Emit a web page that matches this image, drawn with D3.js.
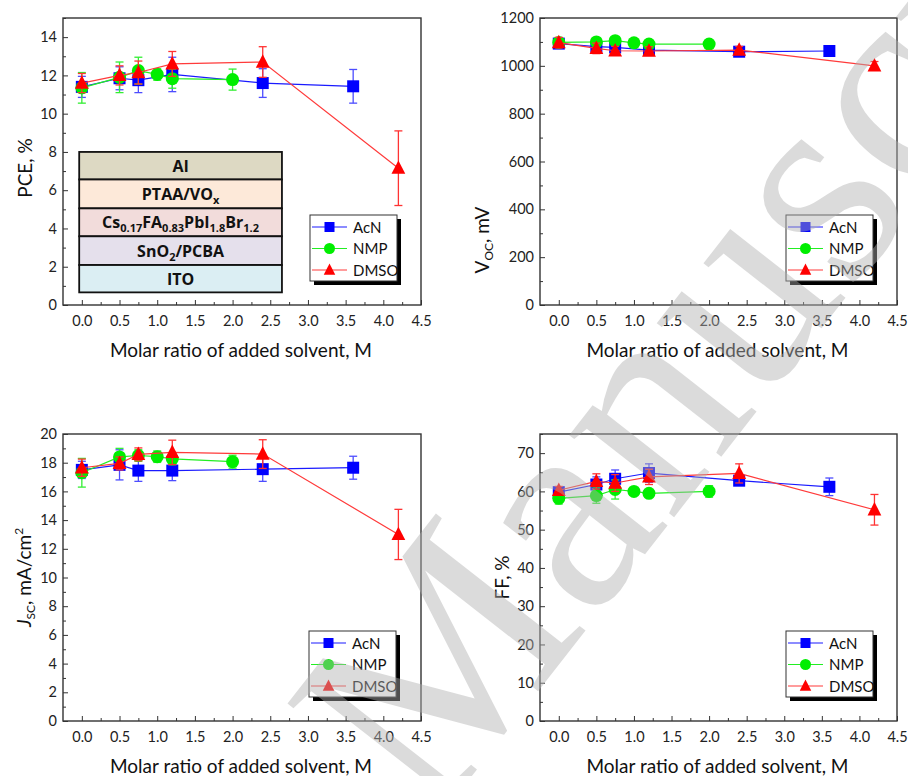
<!DOCTYPE html>
<html><head><meta charset="utf-8">
<script src="https://cdn.jsdelivr.net/npm/d3@7"></script>
<style>
html,body{margin:0;padding:0;background:#fff;}
svg{display:block;font-family:Lato,"Open Sans",sans-serif;}
</style></head>
<body>
<svg id="c" width="908" height="776"></svg>
<script>
// ---------- data ----------
const seriesNames = ["AcN", "NMP", "DMSO"];
const xAcN  = [0, 0.5, 0.75, 1.2, 2.4, 3.6];
const xNMP  = [0, 0.5, 0.75, 1.0, 1.2, 2.0];
const xDMSO = [0, 0.5, 0.75, 1.2, 2.4, 4.2];
const xTickLabels = ["0.0","0.5","1.0","1.5","2.0","2.5","3.0","3.5","4.0","4.5"];

const pceAcN  = [11.4, 11.85, 11.75, 12.05, 11.6, 11.43];
const pceAcNErr = [0.55, 0.6, 0.65, 0.9, 0.75, 0.88];
const pceNMP  = [11.35, 11.9, 12.25, 12.05, 11.83, 11.78];
const pceNMPErr = [0.8, 0.8, 0.7, 0.3, 0.5, 0.55];
const pceDMSO = [11.6, 12.0, 12.15, 12.6, 12.7, 7.15];
const pceDMSOErr = [0.5, 0.5, 0.6, 0.65, 0.8, 1.95];

const vocAcN  = [1093, 1080, 1077, 1066, 1059, 1062];
const vocAcNErr = [15, 15, 15, 15, 15, 10];
const vocNMP  = [1098, 1100, 1105, 1096, 1091, 1091];
const vocNMPErr = [10, 10, 10, 8, 8, 8];
const vocDMSO = [1097, 1073, 1063, 1062, 1066, 1000];
const vocDMSOErr = [22, 22, 18, 18, 15, 18];

const jscAcN  = [17.5, 17.85, 17.45, 17.45, 17.55, 17.65];
const jscAcNErr = [0.6, 1.05, 0.75, 0.7, 0.85, 0.8];
const jscNMP  = [17.3, 18.4, 18.5, 18.42, 18.26, 18.07];
const jscNMPErr = [1.0, 0.6, 0.4, 0.4, 0.4, 0.45];
const jscDMSO = [17.65, 17.95, 18.58, 18.72, 18.6, 13.0];
const jscDMSOErr = [0.6, 0.45, 0.45, 0.85, 1.0, 1.75];

const ffAcN  = [59.8, 61.8, 63.3, 64.8, 62.8, 61.2];
const ffAcNErr = [1.0, 2.0, 2.3, 2.4, 1.2, 2.3];
const ffNMP  = [58.2, 58.9, 60.5, 60.0, 59.5, 60.0];
const ffNMPErr = [1.5, 2.0, 2.5, 0.8, 0.8, 1.5];
const ffDMSO = [60.3, 62.6, 62.2, 63.8, 64.7, 55.2];
const ffDMSOErr = [1.0, 2.0, 2.2, 2.0, 2.5, 4.0];

const stackLayers = ["Al", "PTAA/VOx", "Cs0.17FA0.83PbI1.8Br1.2", "SnO2/PCBA", "ITO"];

// ---------- style ----------
const colors = {AcN: "#0000ff", NMP: "#00ee00", DMSO: "#ff0000"};
const errColors = {AcN: "#4d4dff", NMP: "#33ee33", DMSO: "#ff3333"};
const lineColors = {AcN: "#1a1aff", NMP: "#22ee22", DMSO: "#ff3a3a"};
const xs = {AcN: xAcN, NMP: xNMP, DMSO: xDMSO};

const svg = d3.select("#c");

const panels = [
  {l:63, t:18, r:421, b:305, dom:[0,15], major:2, minor:1, fmt:d3.format("d"),
   data:{AcN:[pceAcN,pceAcNErr], NMP:[pceNMP,pceNMPErr], DMSO:[pceDMSO,pceDMSOErr]},
   label:"pce", lx:32, legend:[310,215]},
  {l:540, t:18, r:897, b:305, dom:[0,1200], major:200, minor:100, fmt:d3.format("d"),
   data:{AcN:[vocAcN,vocAcNErr], NMP:[vocNMP,vocNMPErr], DMSO:[vocDMSO,vocDMSOErr]},
   label:"voc", lx:489, legend:[786,215]},
  {l:63, t:434, r:421, b:721, dom:[0,20], major:2, minor:1, fmt:d3.format("d"),
   data:{AcN:[jscAcN,jscAcNErr], NMP:[jscNMP,jscNMPErr], DMSO:[jscDMSO,jscDMSOErr]},
   label:"jsc", lx:31, legend:[309,631]},
  {l:540, t:434, r:897, b:721, dom:[0,75], major:10, minor:5, fmt:d3.format("d"),
   data:{AcN:[ffAcN,ffAcNErr], NMP:[ffNMP,ffNMPErr], DMSO:[ffDMSO,ffDMSOErr]},
   label:"ff", lx:509, legend:[786,631]}
];

function marker(g, name, x, y, s) {
  const c = colors[name];
  if (name === "AcN") {
    g.append("rect").attr("x", x - s/2).attr("y", y - s/2).attr("width", s).attr("height", s).attr("fill", c);
  } else if (name === "NMP") {
    g.append("circle").attr("cx", x).attr("cy", y).attr("r", s/2 + 0.5).attr("fill", c);
  } else {
    const w = s * 1.15, h = s * 1.05;
    g.append("path").attr("d", `M${x},${y - h*0.62}L${x + w/2},${y + h*0.45}L${x - w/2},${y + h*0.45}Z`).attr("fill", c);
  }
}

panels.forEach(p => {
  const x = d3.scaleLinear().domain([-0.25, 4.5]).range([p.l, p.r]);
  const y = d3.scaleLinear().domain(p.dom).range([p.b, p.t]);
  const g = svg.append("g");

  // frame
  g.append("rect").attr("x", p.l).attr("y", p.t).attr("width", p.r - p.l).attr("height", p.b - p.t)
    .attr("fill", "none").attr("stroke", "#333").attr("stroke-width", 1.4);

  // x axis (ticks inward)
  const xMajor = d3.range(0, 4.51, 0.5);
  const xMinor = d3.range(0.25, 4.5, 0.5);
  const xa = d3.axisBottom(x).tickValues(xMajor).tickSizeInner(-5).tickSizeOuter(0)
    .tickFormat((d, i) => xTickLabels[i]);
  const gx = g.append("g").attr("transform", `translate(0,${p.b})`).call(xa);
  gx.select(".domain").remove();
  gx.selectAll(".tick line").attr("stroke", "#333");
  gx.selectAll(".tick text").attr("y", 11).attr("font-size", 14.5).attr("fill", "#222")
    .attr("font-family", "Lato, sans-serif");
  const gxm = g.append("g").attr("transform", `translate(0,${p.b})`)
    .call(d3.axisBottom(x).tickValues(xMinor).tickSizeInner(-3).tickSizeOuter(0).tickFormat(""));
  gxm.select(".domain").remove();
  gxm.selectAll(".tick line").attr("stroke", "#333");

  // y axis
  const yMajor = d3.range(p.dom[0], p.dom[1] + 1e-9, p.major);
  const yMinor = d3.range(p.dom[0] + p.minor, p.dom[1] + 1e-9, p.major);
  const ya = d3.axisLeft(y).tickValues(yMajor).tickSizeInner(-5).tickSizeOuter(0).tickFormat(p.fmt);
  const gy = g.append("g").attr("transform", `translate(${p.l},0)`).call(ya);
  gy.select(".domain").remove();
  gy.selectAll(".tick line").attr("stroke", "#333");
  gy.selectAll(".tick text").attr("x", -6).attr("font-size", 14.5).attr("fill", "#222")
    .attr("font-family", "Lato, sans-serif");
  const gym = g.append("g").attr("transform", `translate(${p.l},0)`)
    .call(d3.axisLeft(y).tickValues(yMinor).tickSizeInner(-3).tickSizeOuter(0).tickFormat(""));
  gym.select(".domain").remove();
  gym.selectAll(".tick line").attr("stroke", "#333");

  // x label
  g.append("text").attr("x", (p.l + p.r) / 2 - 1).attr("y", p.b + 51.5).attr("text-anchor", "middle")
    .attr("font-size", 19).attr("fill", "#111").text("Molar ratio of added solvent, M");

  // y label
  const cy = p.label === "voc" ? 240 : (p.label === "pce" ? 168 : (p.t + p.b) / 2);
  const yl = g.append("text").attr("transform", `translate(${p.lx},${cy}) rotate(-90)`)
    .attr("text-anchor", "middle").attr("font-size", 19).attr("fill", "#111");
  if (p.label === "pce") { yl.text("PCE, %"); }
  else if (p.label === "ff") { yl.text("FF, %"); }
  else if (p.label === "voc") {
    yl.append("tspan").text("V");
    yl.append("tspan").attr("font-size", 12).attr("dy", 4).text("OC");
    yl.append("tspan").attr("dy", -4).text(", mV");
  } else {
    yl.append("tspan").attr("font-style", "italic").text("J");
    yl.append("tspan").attr("font-size", 12).attr("dy", 4).text("SC");
    yl.append("tspan").attr("dy", -4).text(", mA/cm");
    yl.append("tspan").attr("font-size", 12).attr("dy", -8).text("2");
  }

  // device stack (first panel only)
  if (p.label === "pce") {
    const sx0 = x(-0.035), sx1 = x(2.655);
    const bounds = [8.0, 6.56, 5.05, 3.59, 2.09, 0.66];
    const fills = ["#ddd9c3", "#fde9d9", "#f2dcdb", "#e5e0ec", "#dbeef3"];
    const sg = g.append("g");
    stackLayers.forEach((name, i) => {
      const yt = y(bounds[i]), yb = y(bounds[i + 1]);
      sg.append("rect").attr("x", sx0).attr("y", yt).attr("width", sx1 - sx0).attr("height", yb - yt)
        .attr("fill", fills[i]).attr("stroke", "#111").attr("stroke-width", 1.8);
      const t = sg.append("text").attr("x", (sx0 + sx1) / 2).attr("y", (yt + yb) / 2 + 6)
        .attr("text-anchor", "middle").attr("font-size", 16).attr("font-weight", "bold")
        .attr("fill", "#111").attr("font-family", "'Open Sans', Lato, sans-serif");
      const parts = {
        "Al": [["Al", 0]],
        "PTAA/VOx": [["PTAA/VO", 0], ["x", 1]],
        "Cs0.17FA0.83PbI1.8Br1.2": [["Cs", 0], ["0.17", 1], ["FA", 0], ["0.83", 1], ["PbI", 0], ["1.8", 1], ["Br", 0], ["1.2", 1]],
        "SnO2/PCBA": [["SnO", 0], ["2", 1], ["/PCBA", 0]],
        "ITO": [["ITO", 0]]
      }[name];
      let sub = 0;
      parts.forEach(([s, isSub]) => {
        const ts = t.append("tspan").text(s);
        if (isSub) { ts.attr("font-size", 11).attr("dy", sub ? 0 : 4); sub = 1; }
        else { ts.attr("dy", sub ? -4 : 0); sub = 0; }
      });
    });
  }

  // series
  seriesNames.forEach(name => {
    const [vals, errs] = p.data[name];
    const xv = xs[name];
    const pts = vals.map((v, i) => [x(xv[i]), y(v), y(v + errs[i]), y(v - errs[i])]);
    const sg = g.append("g");
    sg.append("path").attr("d", d3.line()(pts.map(q => [q[0], q[1]])))
      .attr("fill", "none").attr("stroke", lineColors[name]).attr("stroke-width", 1.2);
    pts.forEach(q => {
      sg.append("line").attr("x1", q[0]).attr("x2", q[0]).attr("y1", q[2]).attr("y2", q[3])
        .attr("stroke", errColors[name]).attr("stroke-width", 1.3);
      [q[2], q[3]].forEach(yy => sg.append("line").attr("x1", q[0] - 4).attr("x2", q[0] + 4)
        .attr("y1", yy).attr("y2", yy).attr("stroke", errColors[name]).attr("stroke-width", 1.3));
    });
    pts.forEach(q => marker(sg, name, q[0], q[1], 12));
  });

  // legend
  const [lx, ly] = p.legend;
  const lw = 87, lh = 66;
  g.append("rect").attr("x", lx + 4).attr("y", ly + 4).attr("width", lw).attr("height", lh).attr("fill", "#000");
  g.append("rect").attr("x", lx).attr("y", ly).attr("width", lw).attr("height", lh)
    .attr("fill", "#fff").attr("stroke", "#333").attr("stroke-width", 1);
  seriesNames.forEach((name, i) => {
    const yy = ly + 12 + i * 21.5;
    g.append("line").attr("x1", lx + 2).attr("x2", lx + 37).attr("y1", yy).attr("y2", yy)
      .attr("stroke", lineColors[name]).attr("stroke-width", 1.2);
    marker(g, name, lx + 19.5, yy, 10);
    g.append("text").attr("x", lx + 43).attr("y", yy + 5.5).attr("font-size", 15).attr("fill", "#111").text(name);
  });
});

// watermark
const wm = svg.append("g").attr("transform", "translate(432,827) rotate(-52)").attr("opacity", 0.45);
wm.append("text").attr("text-anchor", "start").attr("font-family", "'Liberation Serif', serif")
  .attr("font-size", 290).attr("fill", "#b0b0b0").text("Manuscript");
</script>
</body></html>
